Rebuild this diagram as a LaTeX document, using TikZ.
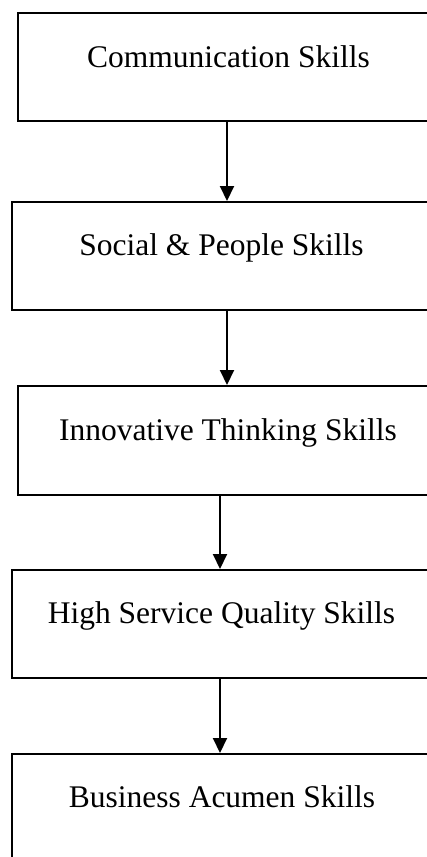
\documentclass[tikz,border=0pt]{standalone}
\usepackage{fontspec}
\setmainfont{Liberation Serif}
\usetikzlibrary{arrows.meta}
\begin{document}
\begin{tikzpicture}[x=1pt,y=-1pt,
  skillbox/.style={draw=black,line width=2.4pt,rectangle,inner sep=0pt,anchor=north west},
  skilltext/.style={anchor=base,inner sep=0pt,font=\fontsize{31.5}{36}\selectfont},
  flowarrow/.style={line width=2pt,-{Triangle[width=14pt,length=15pt]}}]
\useasboundingbox (0,0) rectangle (427,857);
\begin{scope}
\clip (0,0) rectangle (427,857);
\node[skillbox,minimum width=430pt,minimum height=108.5pt] (b1) at (16.5,11.5) {};
\node[skillbox,minimum width=436pt,minimum height=108pt] (b2) at (10.5,201) {};
\node[skillbox,minimum width=430pt,minimum height=109pt] (b3) at (16.5,385) {};
\node[skillbox,minimum width=436pt,minimum height=108pt] (b4) at (10.5,569) {};
\node[skillbox,minimum width=436pt,minimum height=130pt] (b5) at (11,753) {};
\end{scope}
\node[skilltext] (t1) at (228.5,67) {Communication Skills};
\node[skilltext] (t2) at (221.5,255) {Social \& People Skills};
\node[skilltext] (t3) at (228,440) {Innovative Thinking Skills};
\node[skilltext] (t4) at (221.5,623) {High Service Quality Skills};
\node[skilltext] (t5) at (222,807) {Business Acumen Skills};
\coordinate (cA) at (227,0);
\coordinate (cB) at (220,0);
\draw[flowarrow] (b1.south -| cA) -- (b2.north -| cA);
\draw[flowarrow] (b2.south -| cA) -- (b3.north -| cA);
\draw[flowarrow] (b3.south -| cB) -- (b4.north -| cB);
\draw[flowarrow] (b4.south -| cB) -- (b5.north -| cB);
\end{tikzpicture}
\end{document}
